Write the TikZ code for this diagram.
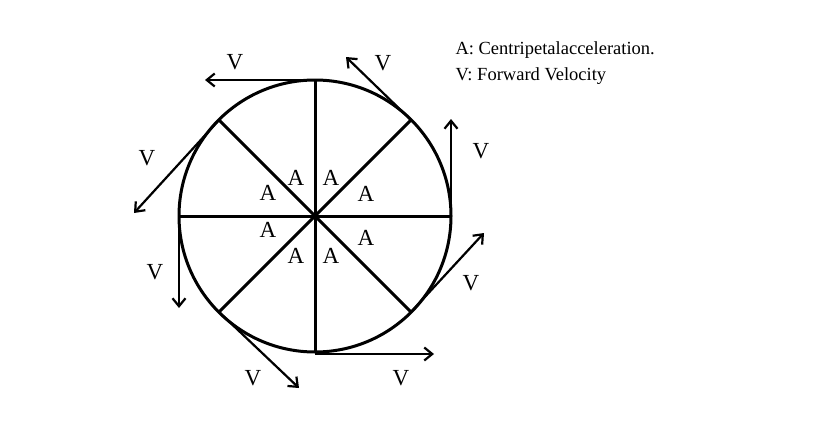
\documentclass[tikz,border=0pt]{standalone}
\usepackage{fontspec}
\usetikzlibrary{arrows.meta}
\setmainfont{Liberation Serif}
\begin{document}
\begin{tikzpicture}[x=1pt,y=-1pt,line width=3pt,
  vel/.style={-{Straight Barb[length=8pt,width=13pt,line width=2.2pt]},line width=2.2pt},
  lab/.style={font=\fontsize{23}{23}\selectfont,inner sep=0pt},
  leg/.style={font=\fontsize{18.5}{18.5}\selectfont,inner sep=0pt,anchor=west}]
\useasboundingbox[fill=white] (0,0) rectangle (820,431);
\coordinate (c) at (315,216);
\draw (c) circle[radius=136];
\foreach \a in {0,45,...,315}{\draw[line width=3pt] (c) -- ++(\a:136);}
\coordinate (t) at (315,80); \coordinate (tr) at (411,120); \coordinate (r) at (451,216);
\coordinate (br) at (411,312); \coordinate (b) at (315,354); \coordinate (bl) at (219,312);
\coordinate (l) at (179,216); \coordinate (tl) at (219,120);
\coordinate (e1) at (205,80); \coordinate (e2) at (346,57); \coordinate (e3) at (451,119);
\coordinate (e4) at (484,233); \coordinate (e5) at (434,354); \coordinate (e6) at (299,388);
\coordinate (e7) at (179,308); \coordinate (e8) at (134,213);
\draw[vel] (t) -- (e1); \draw[vel] (tr) -- (e2); \draw[vel] (r) -- (e3); \draw[vel] (br) -- (e4);
\draw[vel] (b) -- (e5); \draw[vel] (bl) -- (e6); \draw[vel] (l) -- (e7); \draw[vel] (tl) -- (e8);
\node[lab] (v1) at (235,62) {V}; \node[lab] (v2) at (383,63) {V}; \node[lab] (v3) at (481,151) {V};
\node[lab] (v4) at (471,283) {V}; \node[lab] (v5) at (401,378) {V}; \node[lab] (v6) at (253,378) {V};
\node[lab] (v7) at (155,272) {V}; \node[lab] (v8) at (147,158) {V};
\node[lab] (a1) at (296,178) {A}; \node[lab] (a2) at (331,178) {A};
\node[lab] (a3) at (268,193) {A}; \node[lab] (a4) at (366,194) {A};
\node[lab] (a5) at (268,230) {A}; \node[lab] (a6) at (366,238) {A};
\node[lab] (a7) at (296,256) {A}; \node[lab] (a8) at (331,256) {A};
\node[leg] (l1) at (454,50) {A: Centripetalacceleration.};
\node[leg] (l2) at (454,76) {V: Forward Velocity};
\end{tikzpicture}
\end{document}
